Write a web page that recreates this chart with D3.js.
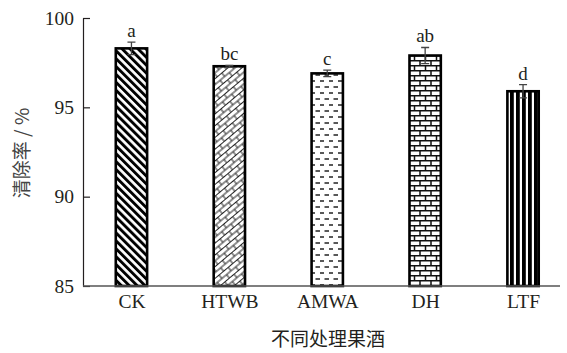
<!DOCTYPE html>
<html>
<head>
<meta charset="utf-8">
<script src="https://cdn.jsdelivr.net/npm/d3@7/dist/d3.min.js"></script>
<style>
  html, body { margin: 0; padding: 0; background: #fff; }
  svg { display: block; }
</style>
</head>
<body>
<script>
// Scavenging rate of fruit wines under different treatments
const categories = ["CK", "HTWB", "AMWA", "DH", "LTF"];
const means = [98.3, 97.3, 96.9, 97.9, 95.9];
const errors = [0.35, 0.05, 0.18, 0.45, 0.37];
const letters = ["a", "bc", "c", "ab", "d"];
const yTicks = [85, 90, 95, 100];
const patternIds = ["p-diag", "p-weave", "p-dash", "p-brick", "p-vert"];

const W = 567, H = 353;
const ink = "#231f20";
const serif = "'Liberation Serif', 'Times New Roman', serif";
const cjk = "'Noto Sans CJK SC', sans-serif";

const svg = d3.select("body").append("svg").attr("width", W).attr("height", H);

const x = d3.scalePoint().domain(categories).range([82.5, 572]).padding(0.5);
const y = d3.scaleLinear().domain([85, 100]).range([286, 18]);
const barW = x.step() * 0.32;

// Fill patterns for each treatment
const defs = svg.append("defs");

// diagonal stripes (\)
const pd = defs.append("pattern").attr("id", "p-diag").attr("patternUnits", "userSpaceOnUse")
  .attr("width", 5.6).attr("height", 10).attr("patternTransform", "rotate(-45)");
pd.append("rect").attr("width", 5.6).attr("height", 10).attr("fill", "#fff");
pd.append("rect").attr("width", 2.9).attr("height", 10).attr("fill", "#000");

// woven diagonal bricks
const pw = defs.append("pattern").attr("id", "p-weave").attr("patternUnits", "userSpaceOnUse")
  .attr("width", 12).attr("height", 9).attr("patternTransform", "rotate(-40)");
pw.append("rect").attr("width", 12).attr("height", 9).attr("fill", "#fff");
pw.append("path").attr("d", "M0,0.5H12M0,5H12M3,0.5V5M9,5V9.5")
  .attr("stroke", "#222").attr("stroke-width", 1).attr("fill", "none");

// staggered horizontal dashes
const pa = defs.append("pattern").attr("id", "p-dash").attr("patternUnits", "userSpaceOnUse")
  .attr("width", 9).attr("height", 12);
pa.append("rect").attr("width", 9).attr("height", 12).attr("fill", "#fff");
pa.append("path").attr("d", "M0.5,3H5M5,9H9.5")
  .attr("stroke", "#222").attr("stroke-width", 1.3).attr("fill", "none");

// brick wall
const pb = defs.append("pattern").attr("id", "p-brick").attr("patternUnits", "userSpaceOnUse")
  .attr("width", 11).attr("height", 10);
pb.append("rect").attr("width", 11).attr("height", 10).attr("fill", "#fff");
pb.append("path").attr("d", "M0,0.7H11M0,5.7H11M2,0.7V5.7M7.5,5.7V10.7")
  .attr("stroke", "#111").attr("stroke-width", 1.5).attr("fill", "none");

// vertical stripes
const pv = defs.append("pattern").attr("id", "p-vert").attr("patternUnits", "userSpaceOnUse")
  .attr("width", 6).attr("height", 10);
pv.append("rect").attr("width", 6).attr("height", 10).attr("fill", "#fff");
pv.append("rect").attr("width", 3.8).attr("height", 10).attr("fill", "#000");

// bars
const bars = svg.append("g").selectAll("g").data(categories).join("g");
bars.append("rect")
  .attr("x", d => x(d) - barW / 2)
  .attr("y", (d, i) => y(means[i]))
  .attr("width", barW)
  .attr("height", (d, i) => y(85) - y(means[i]))
  .attr("fill", (d, i) => `url(#${patternIds[i]})`)
  .attr("stroke", "#000")
  .attr("stroke-width", 2.6);

// error bars
const cap = 4;
bars.append("path")
  .attr("d", (d, i) => {
    const cx = x(d), t = y(means[i] + errors[i]), b = y(means[i] - errors[i]);
    return `M${cx - cap},${t}H${cx + cap}M${cx},${t}V${b}M${cx - cap},${b}H${cx + cap}`;
  })
  .attr("stroke", "#444").attr("stroke-width", 1.3).attr("fill", "none");

// significance letters
bars.append("text")
  .attr("x", d => x(d))
  .attr("y", (d, i) => y(means[i] + errors[i]) - 5)
  .attr("text-anchor", "middle")
  .attr("font-family", serif).attr("font-size", 19).attr("fill", ink)
  .text((d, i) => letters[i]);

// y axis
const yAxis = svg.append("g").attr("transform", "translate(83,0)")
  .call(d3.axisLeft(y).tickValues(yTicks).tickSize(-7).tickPadding(9).tickSizeOuter(0));
yAxis.select(".domain").attr("stroke", ink).attr("stroke-width", 1.2);
yAxis.selectAll(".tick line").attr("stroke", ink).attr("stroke-width", 1.2);
yAxis.selectAll(".tick text").attr("font-family", serif).attr("font-size", 19.5).attr("fill", ink);

// x axis
const xAxis = svg.append("g").attr("transform", "translate(0,286)")
  .call(d3.axisBottom(x).tickSize(0).tickPadding(8));
xAxis.select(".domain").attr("d", "M83,0H560").attr("stroke", "#555").attr("stroke-width", 1.3);
xAxis.selectAll(".tick text").attr("font-family", serif).attr("font-size", 19.5).attr("fill", ink)
  .attr("dy", "0.71em");

// axis titles
svg.append("text")
  .attr("transform", "translate(29,153) rotate(-90)")
  .attr("text-anchor", "middle")
  .attr("font-family", cjk).attr("font-size", 19).attr("fill", "#444")
  .text("清除率 / %");

svg.append("text")
  .attr("x", 328).attr("y", 346)
  .attr("text-anchor", "middle")
  .attr("font-family", cjk).attr("font-size", 19).attr("fill", ink)
  .text("不同处理果酒");
</script>
</body>
</html>
